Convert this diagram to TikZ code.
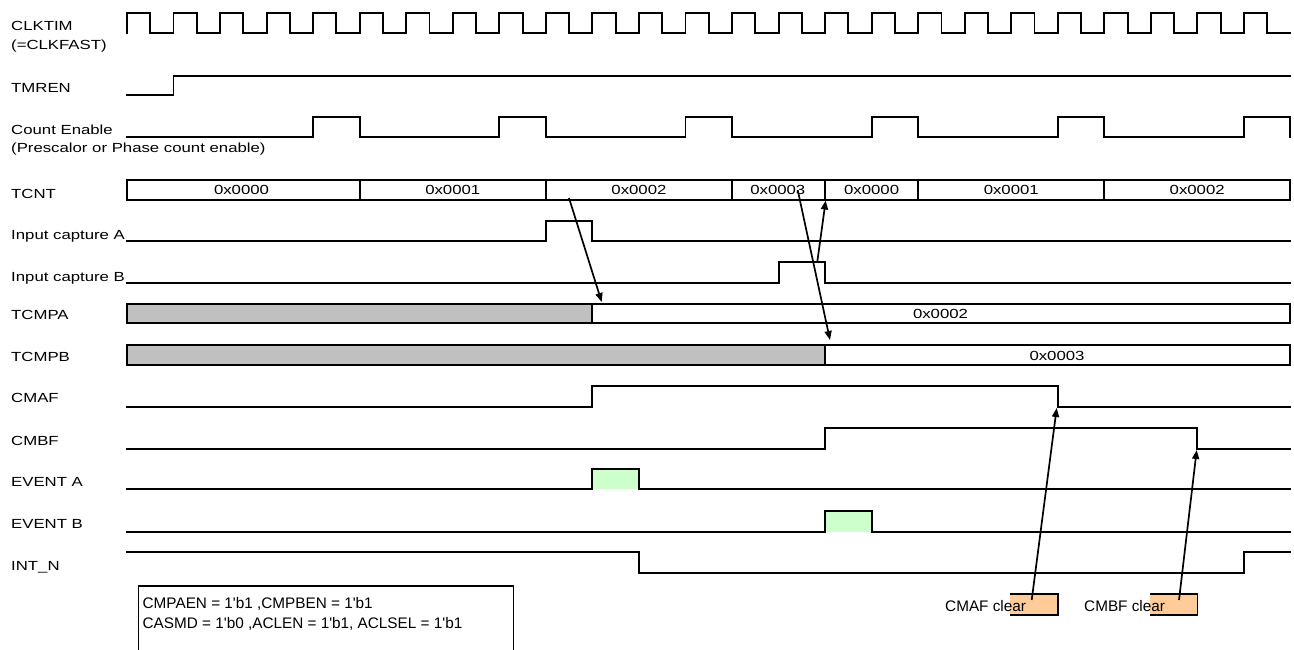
\documentclass[tikz,border=0pt]{standalone}
\usepackage{fontspec}
\setmainfont{Liberation Sans}
\newfontfamily\widef{Liberation Sans}[FakeStretch=1.27]
\newfontfamily\arialf{Liberation Sans}
\usetikzlibrary{arrows.meta}
\definecolor{busgray}{HTML}{C0C0C0}
\definecolor{evgreen}{HTML}{CCFFCC}
\definecolor{clrorange}{HTML}{FFCC99}
\begin{document}
\begin{tikzpicture}[x=1pt,y=-1pt,
  sig/.style={line width=1.9pt, line join=miter, line cap=rect},
  lbl/.style={anchor=base west, inner sep=0pt, font=\widef\fontsize{13.2}{16}\selectfont},
  hex/.style={inner sep=0pt, font=\widef\fontsize{13.2}{16}\selectfont},
  note/.style={anchor=base west, inner sep=0pt, font=\arialf\fontsize{15.3}{18}\selectfont},
  arr/.style={line width=1.7pt, -{Triangle[length=9pt,width=7pt]}}]
\useasboundingbox[fill=white] (0,0) rectangle (1294,650);

% ---------- labels ----------
\node[lbl] (lclk) at (11,31) {CLKTIM};
\node[lbl] (lclk2) at (11,49.3) {(=CLKFAST)};
\node[lbl] (ltmr) at (11,92.7) {TMREN};
\node[lbl] (lce) at (11,134.3) {Count Enable};
\node[lbl] (lce2) at (11,152.7) {(Prescalor or Phase count enable)};
\node[lbl] (ltcnt) at (11,198) {TCNT};
\node[lbl] (lica) at (11,239) {Input capture A};
\node[lbl] (licb) at (11,281) {Input capture B};
\node[lbl] (ltca) at (11,319.3) {TCMPA};
\node[lbl] (ltcb) at (11,361) {TCMPB};
\node[lbl] (lcmaf) at (11,402.7) {CMAF};
\node[lbl] (lcmbf) at (11,445) {CMBF};
\node[lbl] (leva) at (11,486.7) {EVENT A};
\node[lbl] (levb) at (11,528.3) {EVENT B};
\node[lbl] (lint) at (11,570) {INT\_N};

% ---------- CLKTIM ----------
\draw[sig] (127,33.3) \foreach \n in {0,...,24} {
  -- ({127+46.54*\n},33.3) -- ({127+46.54*\n},13.3)
  -- ({150.27+46.54*\n},13.3) -- ({150.27+46.54*\n},33.3) } -- (1290,33.3);

% ---------- TMREN ----------
\draw[sig] (127,95) -- (173.54,95) -- (173.54,76) -- (1290,76);

% ---------- Count Enable ----------
\draw[sig] (127,137)
  -- (313.16,137) -- (313.16,117) -- (359.70,117) -- (359.70,137)
  -- (499.32,137) -- (499.32,117) -- (545.86,117) -- (545.86,137)
  -- (685.48,137) -- (685.48,117) -- (732.02,117) -- (732.02,137)
  -- (871.64,137) -- (871.64,117) -- (918.18,117) -- (918.18,137)
  -- (1057.80,137) -- (1057.80,117) -- (1104.34,117) -- (1104.34,137)
  -- (1243.96,137) -- (1243.96,117) -- (1290,117) -- (1290,137);

% ---------- TCNT ----------
\draw[sig] (127,180) rectangle (1290,200);
\foreach \x in {359.70,545.86,732.02,825.10,918.18,1104.34}
  \draw[sig] (\x,180) -- (\x,200);
\node[hex] (c0) at (241.5,190) {0x0000};
\node[hex] (c1) at (452.78,190) {0x0001};
\node[hex] (c2) at (638.94,190) {0x0002};
\node[hex] (c3) at (777.8,190) {0x0003};
\node[hex] (c4) at (871.64,190) {0x0000};
\node[hex] (c5) at (1011.26,190) {0x0001};
\node[hex] (c6) at (1197.17,190) {0x0002};

% ---------- Input capture A / B ----------
\draw[sig] (127,240.7) -- (545.86,240.7) -- (545.86,220.7) -- (592.40,220.7) -- (592.40,240.7) -- (1290,240.7);
\draw[sig] (127,282.7) -- (778.56,282.7) -- (778.56,261.7) -- (825.10,261.7) -- (825.10,282.7) -- (1290,282.7);

% ---------- TCMPA / TCMPB ----------
\fill[busgray] (127,304) rectangle (592.40,323.3);
\draw[sig] (127,304) rectangle (1290,323.3);
\draw[sig] (592.40,304) -- (592.40,323.3);
\node[hex] (va) at (940.5,313.7) {0x0002};

\fill[busgray] (127,345) rectangle (825.10,365);
\draw[sig] (127,345) rectangle (1290,365);
\draw[sig] (825.10,345) -- (825.10,365);
\node[hex] (vb) at (1057,355.5) {0x0003};

% ---------- CMAF / CMBF ----------
\draw[sig] (127,406.7) -- (592.40,406.7) -- (592.40,385.7) -- (1057.80,385.7) -- (1057.80,406.7) -- (1290,406.7);
\draw[sig] (127,449) -- (825.10,449) -- (825.10,427.7) -- (1197.42,427.7) -- (1197.42,449) -- (1290,449);

% ---------- EVENT A / B ----------
\fill[evgreen] (592.40,469) rectangle (638.94,489.3);
\draw[sig] (127,489.3) -- (592.40,489.3) -- (592.40,469) -- (638.94,469) -- (638.94,489.3) -- (1290,489.3);
\fill[evgreen] (825.10,511) rectangle (871.64,531.7);
\draw[sig] (127,531.7) -- (825.10,531.7) -- (825.10,511) -- (871.64,511) -- (871.64,531.7) -- (1290,531.7);

% ---------- INT_N ----------
\draw[sig] (127,551.7) -- (638.94,551.7) -- (638.94,572.7) -- (1243.96,572.7) -- (1243.96,551.7) -- (1290,551.7);

% ---------- settings box ----------
\draw[line width=1.6pt] (138.3,585.7) rectangle (513.3,650.5);
\node[note] (n1) at (142.5,608.5) {CMPAEN = 1'b1 ,CMPBEN = 1'b1};
\node[note] (n2) at (142.5,628.3) {CASMD = 1'b0 ,ACLEN = 1'b1, ACLSEL = 1'b1};

% ---------- clear boxes ----------
\fill[clrorange] (1010,594) rectangle (1057.7,614.7);
\draw[line width=1.6pt] (1010,594) -- (1057.7,594) -- (1057.7,614.7) -- (1010,614.7);
\fill[clrorange] (1150,594) rectangle (1197.4,614.7);
\draw[line width=1.6pt] (1150,594) -- (1197.4,594) -- (1197.4,614.7) -- (1150,614.7);
\node[note] (ca) at (945,611.7) {CMAF clear};
\node[note] (cb) at (1084,611.7) {CMBF clear};

% ---------- arrows ----------
\coordinate (a1s) at (569,198);    \coordinate (a1e) at (601.7,302);
\coordinate (a2s) at (797.7,190);  \coordinate (a2e) at (830,340);
\coordinate (a3s) at (817.3,261.7); \coordinate (a3e) at (825.7,200.5);
\coordinate (a4s) at (1031.7,600); \coordinate (a4e) at (1056.7,408);
\coordinate (a5s) at (1179,600);   \coordinate (a5e) at (1196.7,450);
\draw[arr] (a1s) -- (a1e);
\draw[arr] (a2s) -- (a2e);
\draw[arr] (a3s) -- (a3e);
\draw[arr] (a4s) -- (a4e);
\draw[arr] (a5s) -- (a5e);
\end{tikzpicture}
\end{document}
